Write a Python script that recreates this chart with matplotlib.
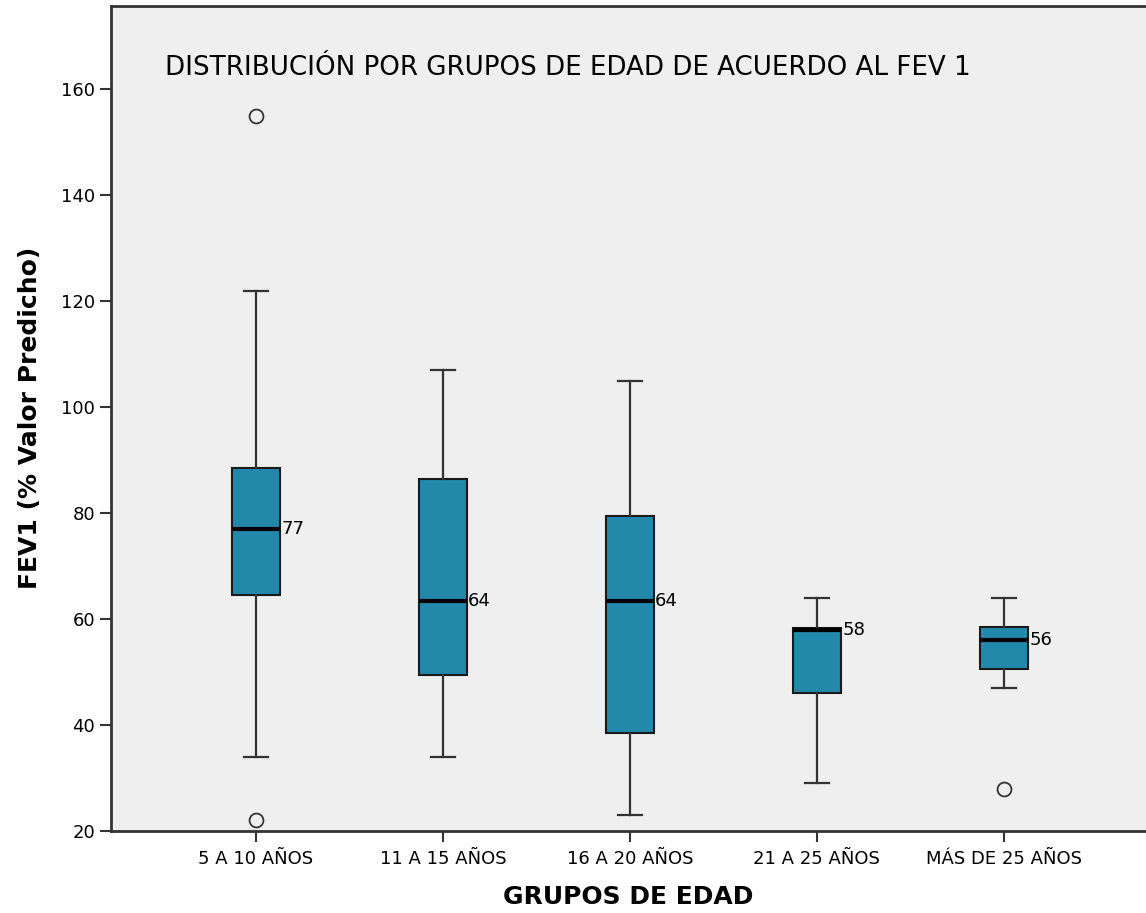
import numpy as np
from matplotlib import pyplot as plt

# grupos de edad y estadisticos (FEV1 % valor predicho)
grupos = ['5 A 10 AÑOS', '11 A 15 AÑOS', '16 A 20 AÑOS', '21 A 25 AÑOS', 'MÁS DE 25 AÑOS']
whislo = [34, 34, 23, 29, 47]
q1 = [64.5, 49.5, 38.5, 46, 50.5]
med = [77, 63.5, 63.5, 58, 56]
q3 = [88.5, 86.5, 79.5, 58.3, 58.5]
whishi = [122, 107, 105, 64, 64]
atipicos = [[155, 22], [], [], [], [28]]
etiquetas = ['77', '64', '64', '58', '56']

plt.rcParams['font.family'] = ['DejaVu Sans']

fig = plt.figure(figsize=(11.46, 9.13), dpi=100)
ax = fig.add_axes([111/1146, 1-831/913, 1-111/1146, 825/913])
ax.set_facecolor('#efefef')

stats = []
for i in range(len(grupos)):
    stats.append(dict(med=med[i], q1=q1[i], q3=q3[i], whislo=whislo[i],
                      whishi=whishi[i], fliers=atipicos[i], label=grupos[i]))

pos = np.arange(len(grupos))
ax.bxp(stats, positions=pos, widths=0.257, patch_artist=True,
       boxprops=dict(facecolor='#2389ab', edgecolor='#1a1a1a', linewidth=1.5),
       medianprops=dict(color='black', linewidth=3),
       whiskerprops=dict(color='#333333', linewidth=1.6),
       capprops=dict(color='#333333', linewidth=1.6),
       flierprops=dict(marker='o', markerfacecolor='none', markeredgecolor='#333333',
                       markersize=10, markeredgewidth=1.3))

for i in range(len(grupos)):
    ax.text(pos[i] + 0.135, med[i], etiquetas[i], fontsize=13, va='center', ha='left')

ax.set_xlim(-0.775, 4.76)
ax.set_ylim(20, 175.7)
ax.set_yticks([20, 40, 60, 80, 100, 120, 140, 160])
ax.set_xticks(pos)
ax.set_xticklabels(grupos, fontsize=13)
ax.tick_params(axis='y', labelsize=13, length=8, width=1.5, color='#333333')
ax.tick_params(axis='x', length=8, width=1.5, color='#333333', pad=6)

for s in ['left', 'bottom', 'top']:
    ax.spines[s].set_linewidth(2)
    ax.spines[s].set_color('#333333')
ax.spines['right'].set_visible(False)

ax.text((165-111)/1035, 1-(68-6)/825,
        'DISTRIBUCIÓN POR GRUPOS DE EDAD DE ACUERDO AL FEV 1',
        transform=ax.transAxes, fontsize=18.8, va='center', ha='left')

fig.text(30/1146, 1-418/913, 'FEV1 (% Valor Predicho)', rotation=90, fontsize=18,
         fontweight='bold', va='center', ha='center')
fig.text(628/1146, 1-897/913, 'GRUPOS DE EDAD', fontsize=18, fontweight='bold',
         va='center', ha='center')

fig.savefig('out.png', dpi=100)
